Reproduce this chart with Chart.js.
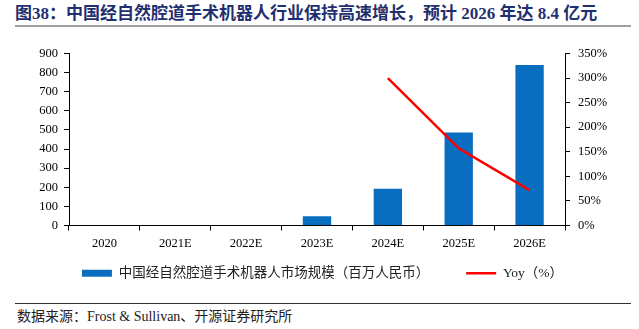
<!DOCTYPE html>
<html>
<head>
<meta charset="utf-8">
<script src="https://cdn.jsdelivr.net/npm/chart.js@4/dist/chart.umd.min.js"></script>
<style>
  html, body { margin: 0; padding: 0; background: #fff; }
  body { width: 639px; height: 329px; position: relative; overflow: hidden; }
  .title {
    position: absolute; left: 15px; top: 4px; line-height: 20px;
    font-family: "Liberation Serif", "Noto Sans CJK SC", serif;
    font-weight: bold; font-size: 17px; color: #1f2f70; white-space: nowrap;
  }
  .rule-top { position: absolute; left: 15px; width: 616px; top: 25px; height: 2px; background: #a0a0a0; }
  .rule-bottom { position: absolute; left: 15px; width: 616px; top: 303px; height: 1px; background: #333; }
  .source {
    position: absolute; left: 17px; top: 308px; line-height: 18px;
    font-family: "Liberation Serif", "Noto Sans CJK SC", serif;
    font-size: 14px; color: #222; white-space: nowrap;
  }
  /* canvas runs a little past the right edge so the legend centres where it should */
  .wrap { position: absolute; left: 0; top: 38px; width: 645px; height: 252px; }
</style>
</head>
<body>
<div class="title">图38：中国经自然腔道手术机器人行业保持高速增长，预计 2026 年达 8.4 亿元</div>
<div class="rule-top"></div>
<div class="wrap"><canvas id="chart"></canvas></div>
<div class="rule-bottom"></div>
<div class="source">数据来源：Frost &amp; Sullivan、开源证券研究所</div>
<script>
// 年份与数据
const years = ["2020", "2021E", "2022E", "2023E", "2024E", "2025E", "2026E"];
const marketSize = [0, 0, 0, 48, 192, 487, 840];      // 百万人民币
const yoy = [null, null, null, null, 300, 157, 72];  // %
const leftTicks = [0, 900, 100];
const rightTicks = [0, 350, 50];

const serif = "'Liberation Serif', 'Times New Roman', serif";

const ctx = document.getElementById("chart").getContext("2d");
new Chart(ctx, {
  data: {
    labels: years,
    datasets: [
      {
        type: "bar",
        label: "中国经自然腔道手术机器人市场规模（百万人民币）",
        data: marketSize,
        backgroundColor: "#0a6ec0",
        categoryPercentage: 1,
        barPercentage: 0.4,
        yAxisID: "y",
        order: 2,
      },
      {
        type: "line",
        label: "Yoy（%）",
        data: yoy,
        borderColor: "#ff0000",
        backgroundColor: "#ff0000",
        borderWidth: 2.5,
        pointRadius: 0,
        yAxisID: "y1",
        order: 1,
      },
    ],
  },
  options: {
    responsive: true,
    maintainAspectRatio: false,
    animation: false,
    layout: { padding: { top: 12, left: 0, right: 0, bottom: 0 } },
    scales: {
      x: {
        grid: { offset: true, drawOnChartArea: false, tickLength: 5, color: "#000" },
        border: { color: "#000", width: 1 },
        ticks: { color: "#000", font: { family: serif, size: 12.5 }, padding: 6, maxRotation: 0, autoSkip: false },
        afterFit: (axis) => { axis.height = 31; },
      },
      y: {
        position: "left",
        min: leftTicks[0],
        max: leftTicks[1],
        grid: { drawOnChartArea: false, tickLength: 5, color: "#000" },
        border: { color: "#000", width: 1 },
        ticks: { stepSize: leftTicks[2], color: "#000", font: { family: serif, size: 12.5 }, padding: 6, autoSkip: false },
        afterFit: (axis) => { axis.width = 69; },
      },
      y1: {
        position: "right",
        min: rightTicks[0],
        max: rightTicks[1],
        grid: { drawOnChartArea: false, tickLength: 5, color: "#000" },
        border: { color: "#000", width: 1 },
        ticks: {
          stepSize: rightTicks[2], color: "#000", font: { family: serif, size: 12.5 }, padding: 8, autoSkip: false,
          callback: (v) => v + "%",
        },
        afterFit: (axis) => { axis.width = 80; },
      },
    },
    plugins: {
      tooltip: { enabled: false },
      legend: {
        position: "bottom",
        labels: {
          color: "#222",
          font: { family: "'Liberation Serif', 'Noto Sans CJK SC', serif", size: 13.5 },
          usePointStyle: true,
          pointStyleWidth: 30,
          boxHeight: 7,
          boxWidth: 30,
          padding: 10,
          sort: (a, b) => a.datasetIndex - b.datasetIndex,
          generateLabels: (chart) => {
            const items = Chart.defaults.plugins.legend.labels.generateLabels(chart);
            items.forEach((it) => {
              if (it.datasetIndex === 0) {
                it.pointStyle = "rect";
                it.lineWidth = 0;
                // 两个图例项之间留出较宽的间距
                it.text += "        ";
              } else {
                it.pointStyle = "line";
                it.lineWidth = 2.5;
                it.strokeStyle = "#ff0000";
              }
            });
            return items;
          },
        },
      },
    },
  },
});
</script>
</body>
</html>
